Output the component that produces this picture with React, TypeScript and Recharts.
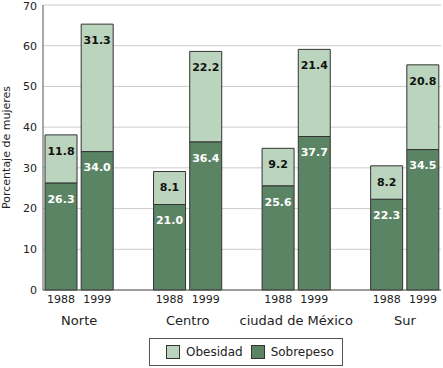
import React from 'react';
import { BarChart, Bar, XAxis, YAxis, CartesianGrid, LabelList } from 'recharts';

const categories = ['Norte', 'Centro', 'ciudad de México', 'Sur'];
const years = ['1988', '1999'];
const sobrepeso = [
  [26.3, 34.0],
  [21.0, 36.4],
  [25.6, 37.7],
  [22.3, 34.5],
];
const obesidad = [
  [11.8, 31.3],
  [8.1, 22.2],
  [9.2, 21.4],
  [8.2, 20.8],
];
const yTicks = [0, 10, 20, 30, 40, 50, 60, 70];

const DARK = '#5b8464';
const LIGHT = '#bbd4bd';
const FONT = '"DejaVu Sans", Verdana, sans-serif';

type Row = { key: string; group?: string; year?: string; sob?: number; obe?: number; first?: boolean };

const data: Row[] = [];
categories.forEach((g, gi) => {
  years.forEach((y, yi) => {
    data.push({ key: `${gi}-${yi}`, group: g, year: y, sob: sobrepeso[gi][yi], obe: obesidad[gi][yi], first: yi === 0 });
  });
  if (gi < categories.length - 1) data.push({ key: `sp${gi}` });
});

const W = 443;
const H = 368;
const M = { top: 5, right: 2, left: 0, bottom: 0 };
const YW = 43;
const XH = 78;
const SLOT = (W - M.right - M.left - YW) / data.length;

const XTick = (props: any) => {
  const { x, y, payload } = props;
  const row = data.find((d) => d.key === payload.value);
  if (!row || !row.year) return <g />;
  return (
    <g>
      <text x={x} y={y + 13} textAnchor="middle" fontSize={11} fill="#222" fontFamily={FONT}>
        {row.year}
      </text>
      {row.first ? (
        <text x={x + SLOT / 2} y={y + 35} textAnchor="middle" fontSize={13} fill="#222" fontFamily={FONT}>
          {row.group}
        </text>
      ) : null}
    </g>
  );
};

const fmt = (v: any) => (v === undefined || v === null ? '' : Number(v).toFixed(1));

export default function App() {
  return (
    <div style={{ position: 'absolute', left: 0, top: 0, width: W, height: H, background: '#fff' }}>
      <BarChart width={W} height={H} data={data} margin={M} barCategoryGap={2} style={{ fontFamily: FONT }}>
        <CartesianGrid vertical={false} stroke="#cccccc" />
        <XAxis
          dataKey="key"
          interval={0}
          height={XH}
          tick={<XTick />}
          tickLine={false}
          tickSize={0}
          tickMargin={0}
          axisLine={{ stroke: '#555' }}
        />
        <XAxis xAxisId="top" dataKey="key" orientation="top" height={0} tick={false} tickLine={false} axisLine={{ stroke: '#555' }} />
        <YAxis
          domain={[0, 70]}
          ticks={yTicks}
          width={YW}
          tickLine={false}
          tickSize={0}
          tickMargin={6}
          axisLine={{ stroke: '#555' }}
          tick={{ fontSize: 11, fill: '#222', fontFamily: FONT }}
          label={{ value: 'Porcentaje de mujeres', angle: -90, position: 'insideLeft', offset: 0, dx: 6, style: { fontSize: 11, fill: '#222', fontFamily: FONT, textAnchor: 'middle' } }}
        />
        <YAxis yAxisId="right" orientation="right" domain={[0, 70]} width={0} tick={false} tickLine={false} axisLine={{ stroke: '#555' }} />
        <Bar dataKey="sob" stackId="a" fill={DARK} stroke="#333" strokeWidth={1} isAnimationActive={false}>
          <LabelList dataKey="sob" position="insideTop" offset={12} formatter={fmt} style={{ fill: '#fff', fontSize: 11, fontWeight: 'bold', fontFamily: FONT }} />
        </Bar>
        <Bar dataKey="obe" stackId="a" fill={LIGHT} stroke="#333" strokeWidth={1} isAnimationActive={false}>
          <LabelList dataKey="obe" position="insideTop" offset={12} formatter={fmt} style={{ fill: '#111', fontSize: 11, fontWeight: 'bold', fontFamily: FONT }} />
        </Bar>
      </BarChart>
      <div
        style={{
          position: 'absolute',
          left: 149,
          top: 338,
          width: 194,
          height: 28,
          boxSizing: 'border-box',
          border: '1px solid #555',
          display: 'flex',
          alignItems: 'center',
          paddingLeft: 16,
          fontFamily: FONT,
          fontSize: 12,
          color: '#222',
        }}
      >
        <span style={{ display: 'inline-block', width: 12, height: 12, background: LIGHT, border: '1px solid #333', marginRight: 6 }} />
        <span style={{ marginRight: 8 }}>Obesidad</span>
        <span style={{ display: 'inline-block', width: 12, height: 12, background: DARK, border: '1px solid #333', marginRight: 6 }} />
        <span>Sobrepeso</span>
      </div>
    </div>
  );
}
